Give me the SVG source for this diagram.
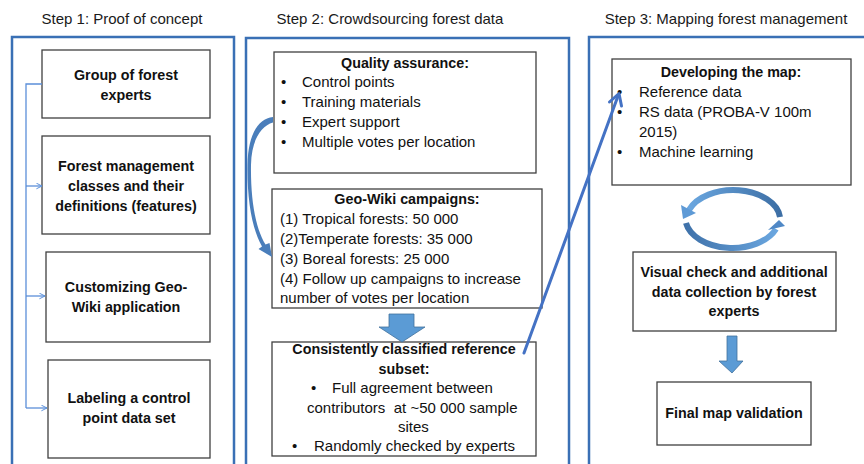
<svg xmlns="http://www.w3.org/2000/svg" width="864" height="464" viewBox="0 0 864 464">
  <style>
    .panel { fill: none; stroke: #3a70b5; stroke-width: 2.5; }
    .box { fill: #ffffff; stroke: #404040; stroke-width: 1.3; }
    .title { font-family: "Liberation Sans", Arial, sans-serif; font-size: 15px; fill: #1a1a1a; text-anchor: middle; }
    .b { font-family: "Liberation Sans", Arial, sans-serif; font-size: 14.3px; font-weight: bold; fill: #111111; text-anchor: middle; }
    .t { font-family: "Liberation Sans", Arial, sans-serif; font-size: 15px; fill: #111111; }
    .link { fill: none; stroke: #5b8fd9; stroke-width: 1.3; }
    .block { fill: #5b9bd5; stroke: #41719c; stroke-width: 0.8; }
  </style>
  <defs>
    <marker id="open" viewBox="0 0 10 10" refX="9" refY="5" markerWidth="7" markerHeight="7" markerUnits="userSpaceOnUse" orient="auto">
      <path d="M1,1 L9,5 L1,9" fill="none" stroke="#5b8fd9" stroke-width="1.4"/>
    </marker>
    <linearGradient id="gTop" x1="0" y1="0" x2="1" y2="0">
      <stop offset="0" stop-color="#6aa6df"/>
      <stop offset="1" stop-color="#3d6fa5"/>
    </linearGradient>
    <linearGradient id="gBot" x1="0" y1="0" x2="1" y2="0">
      <stop offset="0" stop-color="#3f72aa"/>
      <stop offset="1" stop-color="#6aa6df"/>
    </linearGradient>
  </defs>

  <!-- step titles -->
  <text class="title" x="122" y="24">Step 1: Proof of concept</text>
  <text class="title" x="390" y="24">Step 2: Crowdsourcing forest data</text>
  <text class="title" x="726" y="24">Step 3: Mapping forest management</text>

  <!-- step panels -->
  <g id="panel1"><rect class="panel" x="12" y="37" width="222" height="440"/></g>
  <g id="panel2"><rect class="panel" x="246" y="38" width="323" height="440"/></g>
  <g id="panel3"><rect class="panel" x="589" y="37" width="290" height="440"/></g>

  <!-- step 1 nodes -->
  <g id="forest-experts">
    <rect class="box" x="42" y="50" width="168" height="68"/>
    <text class="b" x="126" y="80">Group of forest</text>
    <text class="b" x="126" y="100">experts</text>
  </g>
  <g id="management-classes">
    <rect class="box" x="42" y="136" width="168" height="98"/>
    <text class="b" x="126" y="171">Forest management</text>
    <text class="b" x="126" y="191">classes and their</text>
    <text class="b" x="126" y="211">definitions (features)</text>
  </g>
  <g id="customizing">
    <rect class="box" x="46" y="252" width="164" height="90"/>
    <text class="b" x="126" y="292">Customizing Geo-</text>
    <text class="b" x="126" y="312">Wiki application</text>
  </g>
  <g id="control-points">
    <rect class="box" x="48" y="360" width="162" height="98"/>
    <text class="b" x="129" y="403">Labeling a control</text>
    <text class="b" x="129" y="423">point data set</text>
  </g>

  <!-- step 2 nodes -->
  <g id="quality-assurance">
    <rect class="box" x="274" y="52" width="262" height="121"/>
    <text class="b" x="405" y="68">Quality assurance:</text>
    <g class="t">
      <text x="281" y="87">•</text><text x="302" y="87">Control points</text>
      <text x="281" y="107">•</text><text x="302" y="107">Training materials</text>
      <text x="281" y="127">•</text><text x="302" y="127">Expert support</text>
      <text x="281" y="147">•</text><text x="302" y="147">Multiple votes per location</text>
    </g>
  </g>
  <g id="geo-wiki-campaigns">
    <rect class="box" x="272" y="189" width="270" height="119"/>
    <text class="b" x="407" y="204">Geo-Wiki campaigns:</text>
    <g class="t">
      <text x="280" y="224">(1) Tropical forests: 50 000</text>
      <text x="280" y="244">(2)Temperate forests: 35 000</text>
      <text x="280" y="264">(3) Boreal forests: 25 000</text>
      <text x="280" y="284">(4) Follow up campaigns to increase</text>
      <text x="280" y="303">number of votes per location</text>
    </g>
  </g>
  <g id="reference-subset">
    <rect class="box" x="272" y="342" width="264" height="114"/>
    <text class="b" x="404" y="354">Consistently classified reference</text>
    <text class="b" x="404" y="374">subset:</text>
    <g class="t">
      <text x="311" y="393">•</text><text x="332" y="393">Full agreement between</text>
      <text x="307" y="413" xml:space="preserve">contributors  at ~50 000 sample</text>
      <text x="398" y="432">sites</text>
      <text x="292" y="451">•</text><text x="314" y="451">Randomly checked by experts</text>
    </g>
  </g>

  <!-- step 3 nodes -->
  <g id="developing-map">
    <rect class="box" x="612" y="59" width="239" height="126"/>
    <text class="b" x="731" y="77">Developing the map:</text>
    <g class="t">
      <text x="617" y="97">•</text><text x="639" y="97">Reference data</text>
      <text x="617" y="117">•</text><text x="639" y="117">RS data (PROBA-V 100m</text>
      <text x="639" y="137">2015)</text>
      <text x="617" y="157">•</text><text x="639" y="157">Machine learning</text>
    </g>
  </g>
  <g id="visual-check">
    <rect class="box" x="633" y="252" width="203" height="79"/>
    <text class="b" x="734" y="277">Visual check and additional</text>
    <text class="b" x="734" y="297">data collection by forest</text>
    <text class="b" x="734" y="316">experts</text>
  </g>
  <g id="final-validation">
    <rect class="box" x="657" y="382" width="154" height="63"/>
    <text class="b" x="734" y="418">Final map validation</text>
  </g>

  <!-- connectors -->
  <g id="connectors">
    <!-- step 1 chain -->
    <path class="link" d="M42,84 H26 V408"/>
    <path class="link" d="M26,186 H42" marker-end="url(#open)"/>
    <path class="link" d="M26,296 H45" marker-end="url(#open)"/>
    <path class="link" d="M26,408 H47" marker-end="url(#open)"/>

    <!-- quality assurance feeds the campaigns: tapered curved arrow -->
    <path fill="#4a7ebb" d="M273,117 C257,119 248,136 247.5,165 C247,200 252,229 262,246.5 L258.5,249 L272,257 L269.5,243 L265.5,244.5 C255.5,228 250.5,200 251,165 C251.5,140 261,126 273,122.5 Z"/>

    <!-- campaigns to reference subset -->
    <path class="block" d="M389,314 H414 V327 H425 L402,342 L379,327 H389 Z"/>

    <!-- reference subset to the map -->
    <path d="M524,353 L618,96" fill="none" stroke="#4472c4" stroke-width="3" stroke-linecap="round"/>
    <path d="M609.5,102 L619,93.5 L621.5,106" fill="none" stroke="#4472c4" stroke-width="3" stroke-linecap="round" stroke-linejoin="round"/>

    <!-- iteration loop between map and visual check -->
    <path d="M780,217 A47,30 0 0 0 689,210" fill="none" stroke="url(#gTop)" stroke-width="6"/>
    <path fill="#5e9ad6" d="M681,205 L696,213 L683,219 Z"/>
    <path d="M686,223 A47,30 0 0 0 776,229" fill="none" stroke="url(#gBot)" stroke-width="6"/>
    <path fill="#4f88c6" d="M768,230 L785,226 L779,220 Z"/>

    <!-- visual check to final validation -->
    <path class="block" d="M727,336 H737 V361 H743 L732,373 L719,361 H727 Z"/>
  </g>
</svg>
